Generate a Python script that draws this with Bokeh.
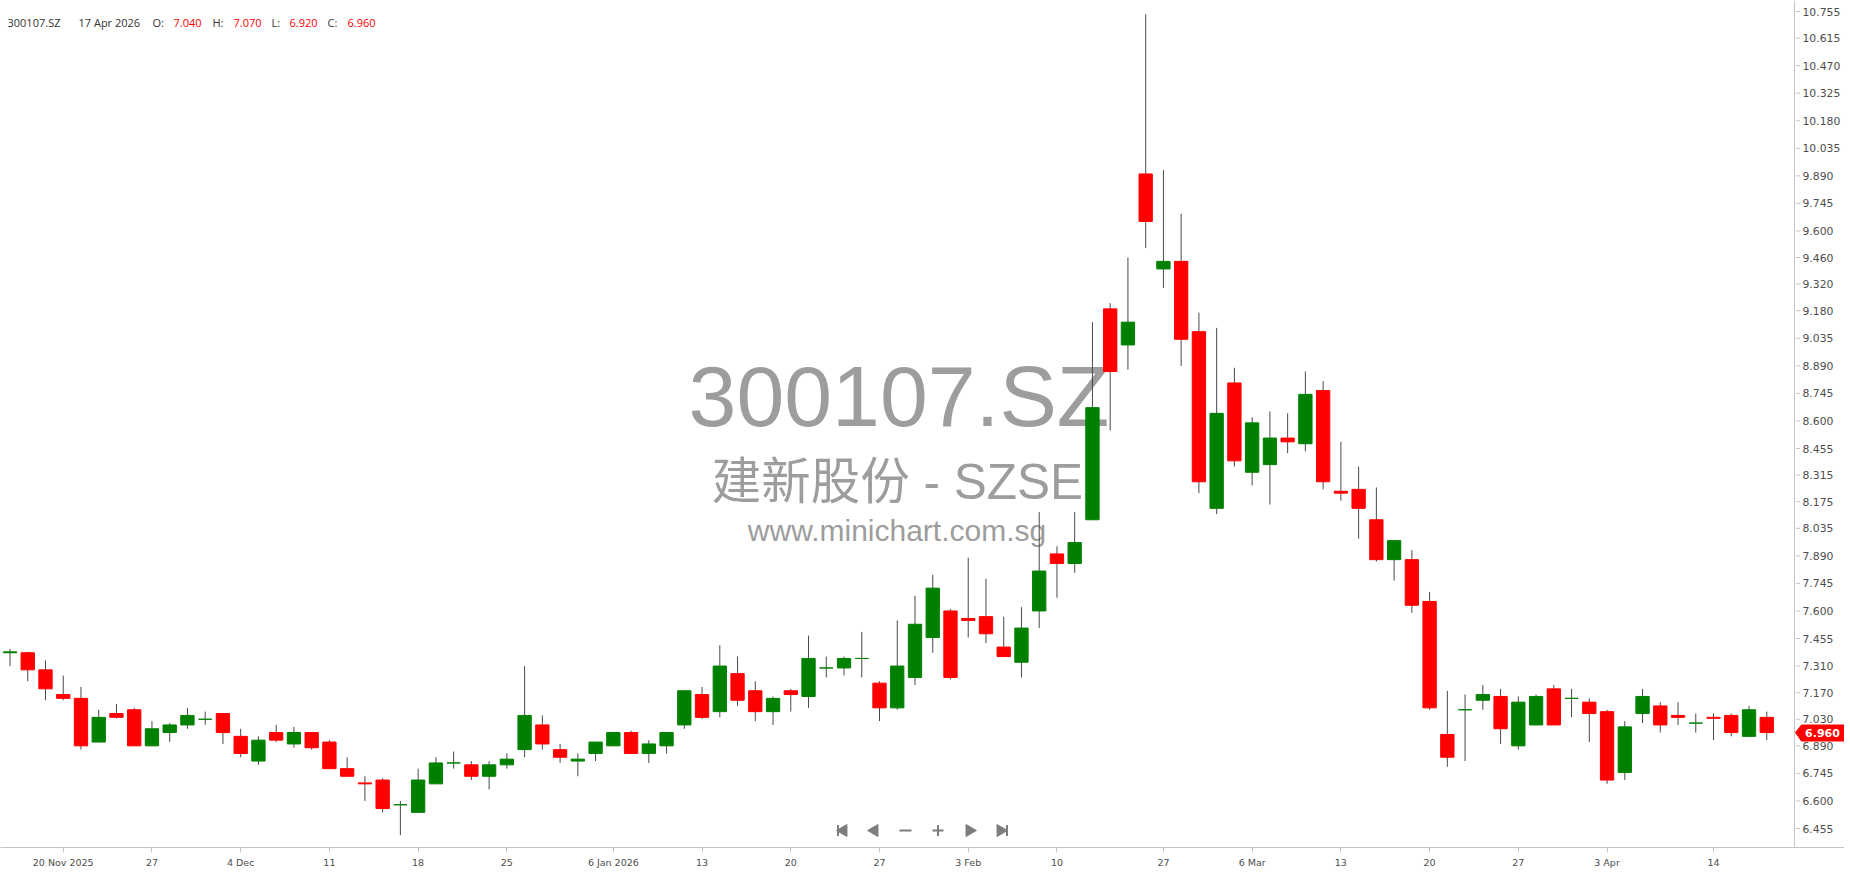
import numpy as np
from bokeh.plotting import figure
from bokeh.models import FixedTicker, Label, ColumnDataSource, Span
from bokeh.core.properties import value
from bokeh.embed import file_html
from bokeh.resources import INLINE

# ---------------- data ----------------
symbol = "300107.SZ"
name_line = "建新股份 - SZSE"
site_line = "www.minichart.com.sg"
last_date = "17 Apr 2026"

opens = [7.38, 7.38, 7.29, 7.16, 7.14, 6.91, 7.06, 7.08, 6.89, 6.96,
         7.00, 7.03, 7.06, 6.94, 6.81, 6.96, 6.90, 6.96, 6.91, 6.77,
         6.695, 6.71, 6.58, 6.54, 6.69, 6.80, 6.79, 6.73, 6.79, 6.87,
         7.00, 6.87, 6.81, 6.85, 6.89, 6.96, 6.85, 6.89, 7.00, 7.16,
         7.07, 7.27, 7.18, 7.07, 7.18, 7.15, 7.30, 7.30, 7.35, 7.22,
         7.09, 7.25, 7.46, 7.60, 7.56, 7.57, 7.41, 7.33, 7.60, 7.90,
         7.85, 8.08, 9.19, 9.00, 9.90, 9.40, 9.44, 9.07, 8.14, 8.80,
         8.33, 8.37, 8.51, 8.48, 8.76, 8.23, 8.24, 8.08, 7.87, 7.87,
         7.65, 6.95, 7.08, 7.13, 7.15, 6.89, 7.00, 7.19, 7.14, 7.12,
         7.07, 6.75, 7.06, 7.10, 7.05, 7.01, 7.04, 7.05, 6.94, 7.04]
highs = [7.40, 7.385, 7.34, 7.26, 7.20, 7.08, 7.11, 7.09, 7.02, 7.01,
         7.09, 7.07, 7.06, 6.98, 6.94, 7.00, 6.99, 6.96, 6.92, 6.83,
         6.73, 6.72, 6.60, 6.77, 6.83, 6.86, 6.81, 6.81, 6.85, 7.31,
         7.05, 6.90, 6.85, 6.91, 6.96, 6.97, 6.92, 6.96, 7.18, 7.20,
         7.42, 7.36, 7.23, 7.15, 7.19, 7.47, 7.36, 7.36, 7.49, 7.23,
         7.55, 7.68, 7.79, 7.61, 7.88, 7.77, 7.57, 7.62, 8.12, 7.94,
         8.12, 9.12, 9.22, 9.46, 10.74, 9.92, 9.69, 9.17, 9.09, 8.88,
         8.62, 8.65, 8.64, 8.86, 8.81, 8.49, 8.36, 8.25, 7.97, 7.92,
         7.70, 7.18, 7.16, 7.21, 7.19, 7.15, 7.16, 7.21, 7.19, 7.14,
         7.08, 7.02, 7.19, 7.12, 7.12, 7.06, 7.06, 7.06, 7.10, 7.07]
lows = [7.31, 7.23, 7.13, 7.13, 6.87, 6.91, 7.035, 6.89, 6.89, 6.91,
        6.98, 7.00, 6.90, 6.83, 6.79, 6.91, 6.88, 6.87, 6.77, 6.73,
        6.60, 6.54, 6.42, 6.54, 6.69, 6.77, 6.71, 6.66, 6.77, 6.83,
        6.87, 6.80, 6.73, 6.81, 6.89, 6.85, 6.80, 6.85, 6.98, 7.03,
        7.04, 7.10, 7.02, 7.00, 7.07, 7.09, 7.25, 7.26, 7.25, 7.02,
        7.08, 7.21, 7.38, 7.24, 7.46, 7.43, 7.36, 7.25, 7.51, 7.67,
        7.80, 8.08, 8.55, 8.87, 9.51, 9.30, 8.89, 8.22, 8.11, 8.36,
        8.26, 8.16, 8.43, 8.44, 8.24, 8.18, 7.98, 7.86, 7.76, 7.59,
        7.08, 6.78, 6.81, 7.08, 6.90, 6.87, 7.00, 7.00, 7.04, 6.91,
        6.69, 6.71, 7.01, 6.96, 7.00, 6.96, 6.92, 6.94, 6.94, 6.92]
closes = [7.385, 7.29, 7.19, 7.14, 6.89, 7.04, 7.04, 6.89, 6.98, 7.00,
          7.05, 7.03, 6.96, 6.85, 6.92, 6.92, 6.96, 6.88, 6.77, 6.73,
          6.69, 6.56, 6.58, 6.71, 6.80, 6.80, 6.73, 6.79, 6.82, 7.05,
          6.90, 6.83, 6.82, 6.91, 6.96, 6.85, 6.90, 6.96, 7.18, 7.04,
          7.31, 7.13, 7.07, 7.14, 7.16, 7.35, 7.30, 7.35, 7.35, 7.09,
          7.31, 7.53, 7.72, 7.25, 7.55, 7.48, 7.36, 7.51, 7.81, 7.85,
          7.96, 8.67, 8.86, 9.12, 9.65, 9.44, 9.03, 8.28, 8.64, 8.39,
          8.59, 8.51, 8.49, 8.74, 8.28, 8.22, 8.14, 7.87, 7.97, 7.63,
          7.09, 6.83, 7.08, 7.16, 6.98, 7.12, 7.15, 7.00, 7.14, 7.06,
          6.71, 6.99, 7.15, 7.00, 7.04, 7.01, 7.035, 6.96, 7.08, 6.96]

x_tick_index = [3, 8, 13, 18, 23, 28, 34, 39, 44, 49, 54, 59, 65, 70, 75, 80, 85, 90, 96]
x_tick_labels = ["20 Nov 2025", "27", "4 Dec", "11", "18", "25", "6 Jan 2026", "13", "20",
                 "27", "3 Feb", "10", "27", "6 Mar", "13", "20", "27", "3 Apr", "14"]
y_tick_labels = ["10.755", "10.615", "10.470", "10.325", "10.180", "10.035", "9.890", "9.745",
                 "9.600", "9.460", "9.320", "9.180", "9.035", "8.890", "8.745", "8.600",
                 "8.455", "8.315", "8.175", "8.035", "7.890", "7.745", "7.600", "7.455",
                 "7.310", "7.170", "7.030", "6.890", "6.745", "6.600", "6.455"]

# ---------------- styles / geometry ----------------
UP, DOWN, WICK = "#008000", "#FF0000", "#4a4a4a"
AXIS_COL, LABEL_COL, WM_COL, NAV_COL = "#c4c4c4", "#4d4d4d", "#9d9d9d", "#7d7d7d"
X0, DX = 9.5, 17.745                      # page px of first candle, px per candle
P_REF, Y_REF, PPU = 10.755, 11.0, 190.0   # price at page y, px per price unit
FL, FR, FT, FB = 0, 1844, 0, 847          # frame edges in page px
AX = 1794                                 # price-scale line, page px


def dx(px):
    return (px - X0) / DX


def dy(py):
    return P_REF - (py - Y_REF) / PPU


p = figure(frame_width=FR - FL, frame_height=FB - FT,
           x_range=(dx(FL), dx(FR)), y_range=(dy(FB), dy(FT)),
           output_backend="svg", toolbar_location=None, y_axis_location=None,
           min_border_left=0, min_border_right=0, min_border_top=0, min_border_bottom=0,
           background_fill_color="white", border_fill_color="white")
p.outline_line_color = None
p.xgrid.grid_line_color = None
p.ygrid.grid_line_color = None

# time axis
p.xaxis.ticker = FixedTicker(ticks=x_tick_index)
p.xaxis.major_label_overrides = {i: t for i, t in zip(x_tick_index, x_tick_labels)}
p.xaxis.axis_line_color = AXIS_COL
p.xaxis.major_tick_line_color = AXIS_COL
p.xaxis.major_tick_out = 5
p.xaxis.major_tick_in = 0
p.xaxis.minor_tick_line_color = None
p.xaxis.major_label_standoff = 4
p.xaxis.major_label_text_font = "DejaVu Sans"
p.xaxis.major_label_text_font_size = "9.5px"
p.xaxis.major_label_text_color = LABEL_COL

# watermark (under the candles)
p.text(x=[dx(898.5)], y=[dy(395)], text=[symbol], text_font=value("Liberation Sans"),
       text_font_size="86px", text_color=WM_COL, text_align="center", text_baseline="alphabetic")
p.text(x=[dx(897)], y=[dy(481)], text=[name_line],
       text_font=value("Liberation Sans, Noto Sans CJK SC"),
       text_font_size="49.5px", text_color=WM_COL, text_align="center", text_baseline="alphabetic")
p.text(x=[dx(896.5)], y=[dy(530)], text=[site_line], text_font=value("Liberation Sans"),
       text_font_size="30px", text_color=WM_COL, text_align="center", text_baseline="alphabetic")

# candles
o = np.array(opens)
c = np.array(closes)
idx = np.arange(len(o))
src = ColumnDataSource(dict(
    x=idx, h=highs, l=lows,
    top=np.maximum(o, c), bottom=np.minimum(o, c),
    color=np.where(c >= o, UP, DOWN),
))
p.segment(x0="x", y0="h", x1="x", y1="l", source=src, line_color=WICK, line_width=1)
p.vbar(x="x", width=0.75, top="top", bottom="bottom", source=src,
       fill_color="color", line_color="color", line_width=1)

# price scale on the right (line, ticks, labels)
yt = [float(s) for s in y_tick_labels]
p.add_layout(Span(location=dx(AX), dimension="height", line_color=AXIS_COL, line_width=1))
p.segment(x0=[dx(AX + 1.5)] * len(yt), y0=yt, x1=[dx(AX + 5.5)] * len(yt), y1=yt,
          line_color=AXIS_COL, line_width=1)
p.text(x=[dx(AX + 8)] * len(yt), y=yt, text=y_tick_labels, text_font=value("DejaVu Sans"),
       text_font_size="10.8px", text_color=LABEL_COL, text_align="left", text_baseline="middle")

# last-price marker
last = closes[-1]
p.patch(x=[dx(AX + 1), dx(AX + 7), dx(1844), dx(1844), dx(AX + 7)],
        y=[last, dy(724.5), dy(724.5), dy(740.5), dy(740.5)],
        fill_color=DOWN, line_color=DOWN)
p.text(x=[dx(1822)], y=[last], text=[f"{last:.3f}"], text_font=value("DejaVu Sans"),
       text_font_size="11px", text_font_style="bold", text_color="white",
       text_align="center", text_baseline="middle")

# navigation buttons
ny = dy(830)
p.scatter(x=[dx(843), dx(874)], y=[ny, ny], marker="triangle", size=12,
          angle=np.pi / 2, fill_color=NAV_COL, line_color=NAV_COL)
p.scatter(x=[dx(969), dx(1000)], y=[ny, ny], marker="triangle", size=12,
          angle=-np.pi / 2, fill_color=NAV_COL, line_color=NAV_COL)
p.segment(x0=[dx(837.5), dx(1006.5), dx(899), dx(932), dx(937.5)],
          y0=[dy(824.5), dy(824.5), ny, ny, dy(824.5)],
          x1=[dx(837.5), dx(1006.5), dx(911), dx(943), dx(937.5)],
          y1=[dy(835.5), dy(835.5), ny, ny, dy(835.5)],
          line_color=NAV_COL, line_width=2)

# header
hy = dy(22)
header = [(7, symbol, "#333333"), (78, last_date, "#333333"),
          (152, "O:", "#333333"), (173, f"{opens[-1]:.3f}", DOWN),
          (212, "H:", "#333333"), (233, f"{highs[-1]:.3f}", DOWN),
          (271, "L:", "#333333"), (289, f"{lows[-1]:.3f}", DOWN),
          (327, "C:", "#333333"), (347, f"{closes[-1]:.3f}", DOWN)]
for px, txt, col in header:
    p.add_layout(Label(x=dx(px), y=hy, text=txt, text_color=col, text_font="Open Sans",
                       text_font_size="11px", text_baseline="alphabetic", text_align="left"))

open("out.html", "w").write(file_html(p, INLINE))
